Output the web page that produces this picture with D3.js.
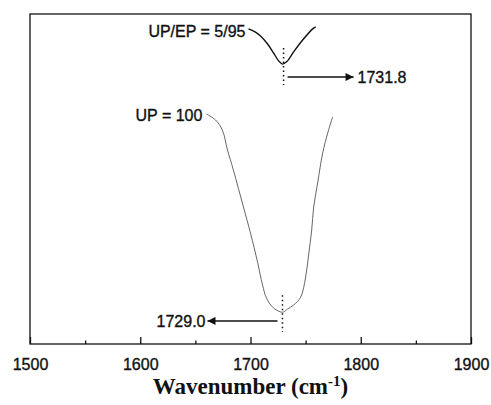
<!DOCTYPE html>
<html>
<head>
<meta charset="utf-8">
<script src="https://cdn.jsdelivr.net/npm/d3@7"></script>
<style>
  body { margin: 0; background: #fff; }
  .sans { font-family: Arial, "Liberation Sans", sans-serif; stroke: #111; stroke-width: 0.35px; }
</style>
</head>
<body>
<div id="chart"></div>
<script>
// spectra (wavenumber, arbitrary intensity 0-100)
const wnUP = [1660, 1668.2, 1674.5, 1679.1, 1684.5, 1693.6, 1700, 1706.4, 1710.9, 1714.5, 1720, 1727.3, 1730,
  1733.6, 1739.1, 1745.5, 1750, 1752.7, 1755.5, 1757.3, 1760.9, 1765.5, 1770, 1774.5];
const valUP = [69.7, 67.9, 64.8, 58.8, 52.7, 41.5, 33.6, 24.8, 17.9, 13.9, 11.2, 9.7, 9.7,
  10.6, 11.8, 14.2, 20.3, 27.0, 34.5, 41.5, 48.8, 57.9, 63.9, 68.8];

const wnBlend = [1698.2, 1704.5, 1709.1, 1715.5, 1720.9, 1725.5, 1729.1, 1732.7, 1739.1, 1747.3, 1756.4, 1759.1];
const valBlend = [95.5, 94.5, 93.3, 90.9, 88.2, 85.8, 84.8, 85.5, 88.5, 92.1, 95.5, 96.1];

const xTicks = [1500, 1600, 1700, 1800, 1900];
const xMinor = [1550, 1650, 1750, 1850];

const curveLabels = ["UP = 100", "UP/EP = 5/95"];
const peakValues = [1729.0, 1731.8];

const width = 491, height = 405;
const margin = { top: 14, right: 20, bottom: 61, left: 30 };

const svg = d3.select("#chart").append("svg")
  .attr("width", width)
  .attr("height", height);

const x = d3.scaleLinear().domain([1500, 1900]).range([margin.left, width - margin.right]);
const y = d3.scaleLinear().domain([0, 100]).range([height - margin.bottom, margin.top]);

// frame
svg.append("rect")
  .attr("x", x(1500)).attr("y", y(100))
  .attr("width", x(1900) - x(1500)).attr("height", y(0) - y(100))
  .attr("fill", "none").attr("stroke", "#111").attr("stroke-width", 1.3);

// bottom axis, ticks pointing inward
const axis = svg.append("g").attr("transform", `translate(0,${y(0)})`);
axis.call(d3.axisBottom(x).tickValues(xTicks).tickSizeInner(-7).tickSizeOuter(0).tickPadding(15).tickFormat(d3.format("d")));
axis.select(".domain").remove();
axis.selectAll(".tick line").attr("stroke", "#111").attr("stroke-width", 1.3);
axis.selectAll(".tick text")
  .attr("class", "sans")
  .attr("font-size", 16).attr("fill", "#111");

const minor = svg.append("g").attr("transform", `translate(0,${y(0)})`);
minor.call(d3.axisBottom(x).tickValues(xMinor).tickSizeInner(-3.5).tickSizeOuter(0).tickFormat(""));
minor.select(".domain").remove();
minor.selectAll(".tick line").attr("stroke", "#111").attr("stroke-width", 1.3);

// axis title
const title = svg.append("text")
  .attr("x", (x(1500) + x(1900)) / 2)
  .attr("y", 394)
  .attr("text-anchor", "middle")
  .style("font-family", "'Liberation Serif', 'Times New Roman', serif")
  .style("font-weight", "bold")
  .style("font-size", "23px")
  .attr("fill", "#111");
title.append("tspan").text("Wavenumber (cm");
title.append("tspan").style("font-size", "15px").attr("dy", -8).text("-1");
title.append("tspan").attr("dy", 8).text(")");

// spectra
const line = d3.line().x(d => x(d[0])).y(d => y(d[1])).curve(d3.curveCatmullRom.alpha(0.5));

svg.append("path")
  .datum(d3.zip(wnUP, valUP))
  .attr("d", line)
  .attr("fill", "none").attr("stroke", "#555").attr("stroke-width", 0.9);

svg.append("path")
  .datum(d3.zip(wnBlend, valBlend))
  .attr("d", line)
  .attr("fill", "none").attr("stroke", "#111").attr("stroke-width", 1.4);

// curve labels
svg.append("text")
  .attr("class", "sans")
  .attr("x", x(wnUP[0]) - 4).attr("y", y(valUP[0]) + 7)
  .attr("text-anchor", "end").attr("font-size", 16).attr("fill", "#111")
  .text(curveLabels[0]);
svg.append("text")
  .attr("class", "sans")
  .attr("x", x(wnBlend[0]) - 3).attr("y", y(valBlend[0]) + 8)
  .attr("text-anchor", "end").attr("font-size", 16).attr("fill", "#111")
  .text(curveLabels[1]);

// peak markers
svg.append("defs").append("marker")
  .attr("id", "arrow")
  .attr("viewBox", "0 0 10 10")
  .attr("refX", 10).attr("refY", 5)
  .attr("markerWidth", 10).attr("markerHeight", 8)
  .attr("markerUnits", "userSpaceOnUse")
  .attr("orient", "auto")
  .append("path").attr("d", "M0,0 L10,5 L0,10 Z").attr("fill", "#111");

// UP = 100 : dotted line and arrow to the left
svg.append("line")
  .attr("x1", x(peakValues[0])).attr("x2", x(peakValues[0]))
  .attr("y1", y(14.8)).attr("y2", y(3.6))
  .attr("stroke", "#111").attr("stroke-width", 1.5).attr("stroke-dasharray", "1.5,3");
svg.append("line")
  .attr("x1", x(peakValues[0]) - 5).attr("x2", x(peakValues[0]) - 75)
  .attr("y1", y(7)).attr("y2", y(7))
  .attr("stroke", "#111").attr("stroke-width", 1.5)
  .attr("marker-end", "url(#arrow)");
svg.append("text")
  .attr("class", "sans")
  .attr("x", x(peakValues[0]) - 77).attr("y", y(7) + 6)
  .attr("text-anchor", "end").attr("font-size", 16).attr("fill", "#111")
  .text(peakValues[0].toFixed(1));

// UP/EP = 5/95 : dotted line and arrow to the right
svg.append("line")
  .attr("x1", x(peakValues[1]) - 2).attr("x2", x(peakValues[1]) - 2)
  .attr("y1", y(89.7)).attr("y2", y(78.5))
  .attr("stroke", "#111").attr("stroke-width", 1.5).attr("stroke-dasharray", "1.5,3");
svg.append("line")
  .attr("x1", x(peakValues[1]) + 2).attr("x2", x(peakValues[1]) + 68)
  .attr("y1", y(80.9)).attr("y2", y(80.9))
  .attr("stroke", "#111").attr("stroke-width", 1.5)
  .attr("marker-end", "url(#arrow)");
svg.append("text")
  .attr("class", "sans")
  .attr("x", x(peakValues[1]) + 72).attr("y", y(80.9) + 6)
  .attr("text-anchor", "start").attr("font-size", 16).attr("fill", "#111")
  .text(peakValues[1].toFixed(1));
</script>
</body>
</html>
